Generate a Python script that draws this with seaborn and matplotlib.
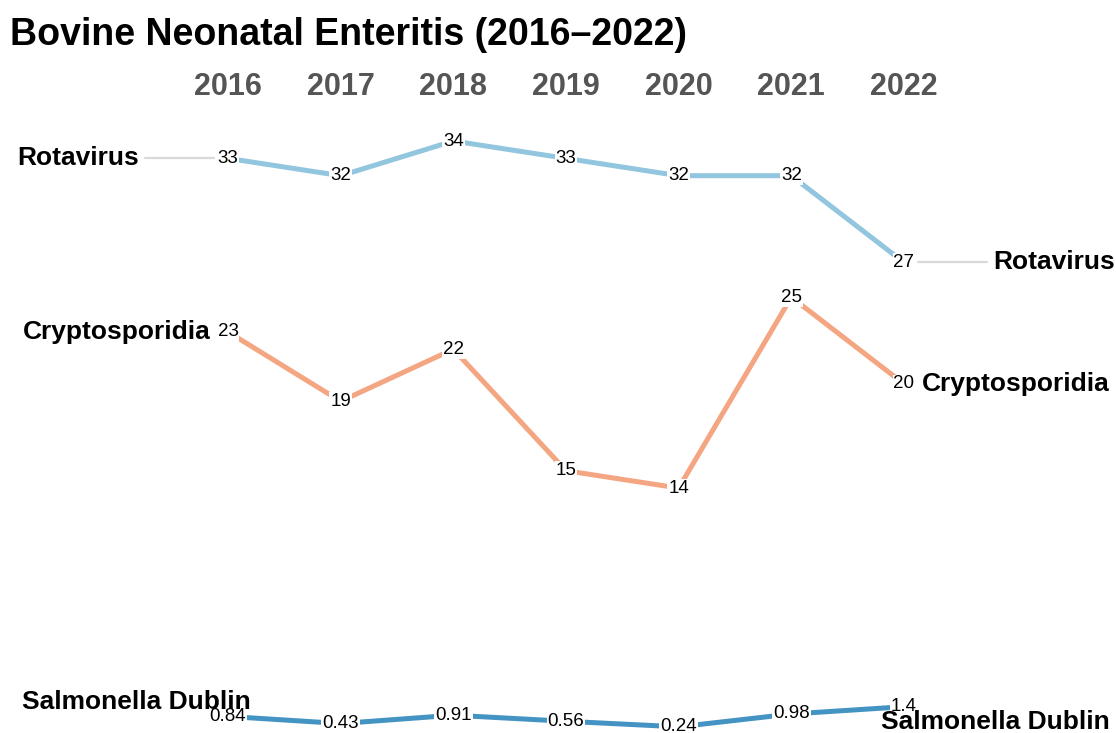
import matplotlib
matplotlib.use("Agg")
import matplotlib.pyplot as plt
import seaborn as sns
import pandas as pd

years = [2016, 2017, 2018, 2019, 2020, 2021, 2022]
diseases = ["Rotavirus", "Cryptosporidia", "Salmonella Dublin"]
rotavirus = [33, 32, 34, 33, 32, 32, 27]
cryptosporidia = [23, 19, 22, 15, 14, 25, 20]
salmonella_dublin = [0.84, 0.43, 0.91, 0.56, 0.24, 0.98, 1.4]
value_labels = {
    "Rotavirus": ["33", "32", "34", "33", "32", "32", "27"],
    "Cryptosporidia": ["23", "19", "22", "15", "14", "25", "20"],
    "Salmonella Dublin": ["0.84", "0.43", "0.91", "0.56", "0.24", "0.98", "1.4"],
}
colors = {"Rotavirus": "#92c5de", "Cryptosporidia": "#f4a582", "Salmonella Dublin": "#4393c3"}

df = pd.DataFrame({
    "year": years * 3,
    "disease": [d for d in diseases for _ in years],
    "value": rotavirus + cryptosporidia + salmonella_dublin,
})

sns.set_style("white")
plt.rcParams["font.family"] = ["Liberation Sans", "DejaVu Sans"]

fig = plt.figure(figsize=(11.16, 7.33), dpi=100)
ax = fig.add_axes([228 / 1116, 2 / 733, 676 / 1116, 590 / 733])

sns.lineplot(data=df, x="year", y="value", hue="disease", palette=colors,
             linewidth=3.6, legend=False, ax=ax, clip_on=False)
for line in ax.lines:
    line.set_clip_on(False)
    line.set_solid_capstyle("butt")

ax.set_xlim(2016, 2022)
ax.set_ylim(0, 34)
ax.axis("off")

# value labels with white background
for d in diseases:
    sub = df[df["disease"] == d]
    for (x, y), lab in zip(sub[["year", "value"]].values, value_labels[d]):
        ax.text(x, y, lab, ha="center", va="center", fontsize=13.5, color="black",
                bbox=dict(boxstyle="square,pad=0.05", fc="white", ec="none"),
                zorder=5, clip_on=False)

# year headers
for yr in years:
    ax.text(yr, 37.1, str(yr), ha="center", va="center", fontsize=22,
            fontweight="bold", color="#555555", clip_on=False)

# end labels (repelled positions)
lab_kw = dict(fontsize=19, fontweight="bold", color="black", va="center", clip_on=False, zorder=6)
ax.plot([2015.26, 2015.88], [33, 33], color="#d9d9d9", lw=1.6, clip_on=False, zorder=1)
ax.plot([2022.12, 2022.74], [27, 27], color="#d9d9d9", lw=1.6, clip_on=False, zorder=1)
ax.text(2015.21, 33.0, "Rotavirus", ha="right", **lab_kw)
ax.text(2022.79, 27.0, "Rotavirus", ha="left", **lab_kw)
ax.text(2015.85, 23.0, "Cryptosporidia", ha="right", **lab_kw)
ax.text(2022.16, 20.0, "Cryptosporidia", ha="left", **lab_kw)
ax.text(2016.2, 1.67, "Salmonella Dublin", ha="right", **lab_kw)
ax.text(2021.8, 0.52, "Salmonella Dublin", ha="left", **lab_kw)

fig.text(10 / 1116, 1 - 45 / 733, "Bovine Neonatal Enteritis (2016\u20132022)",
         ha="left", va="baseline", fontsize=27, fontweight="bold", color="black")

fig.savefig("out.png", dpi=100)
